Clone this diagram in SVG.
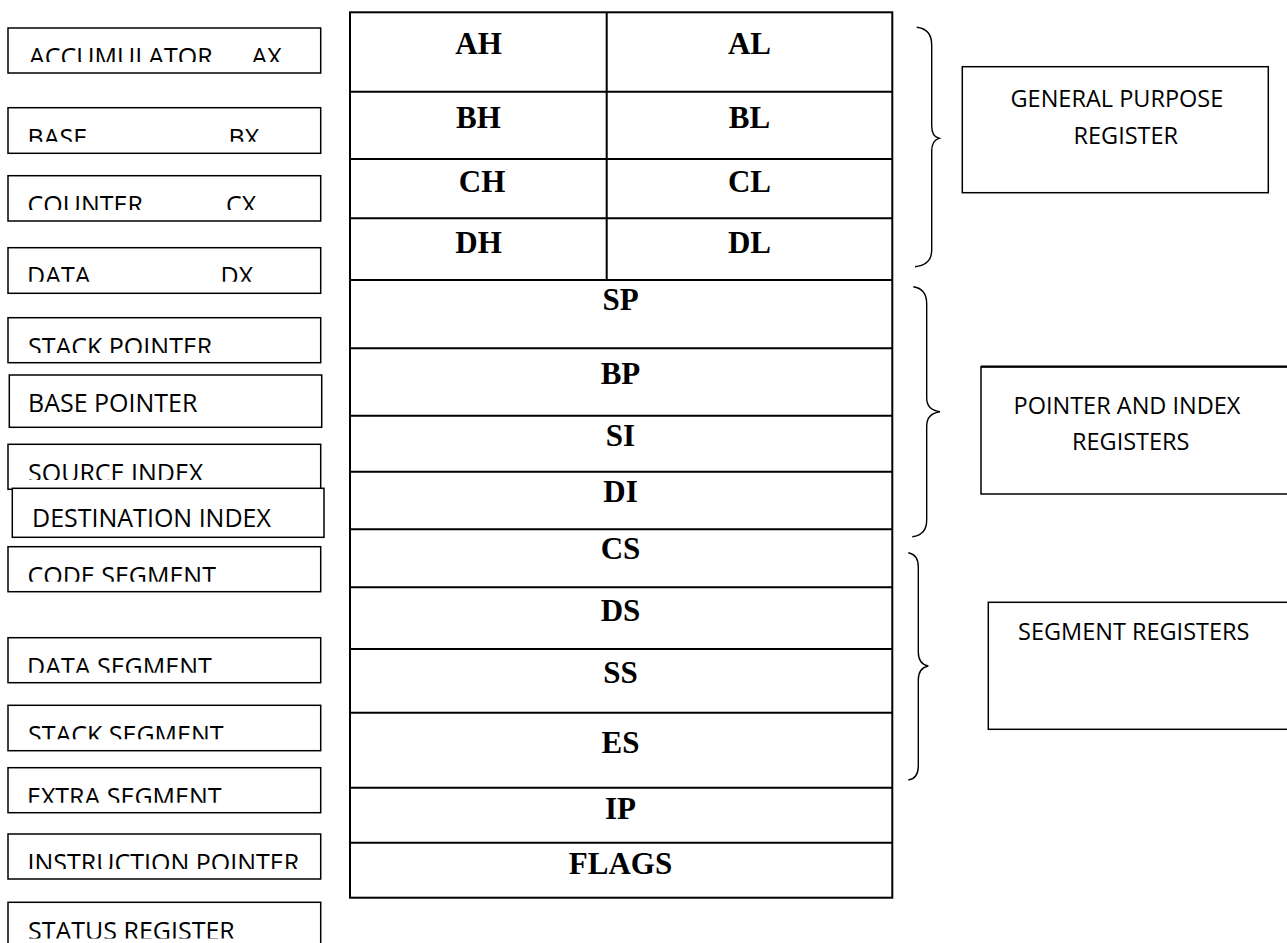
<svg xmlns="http://www.w3.org/2000/svg" width="1287" height="943" viewBox="0 0 1287 943">
<style>
.bx{fill:#fff;stroke:#000;stroke-width:1.5}
.tb{fill:#fff;stroke:#000;stroke-width:2}
.ln{stroke:#000;stroke-width:2;fill:none}
.br{fill:none;stroke:#000;stroke-width:1.4}
.lt{font-family:"Open Sans","Liberation Sans",sans-serif;font-size:25px;fill:#000}
.rt{font-family:"Open Sans","Liberation Sans",sans-serif;font-size:23.5px;fill:#000}
.rg{font-family:"Liberation Serif","Times New Roman",serif;font-size:31px;font-weight:bold;fill:#000;text-anchor:middle}
</style>
<defs>
<clipPath id="c1"><rect x="0" y="28" width="330" height="34"/></clipPath>
<clipPath id="c2"><rect x="0" y="108" width="330" height="33.7"/></clipPath>
<clipPath id="c3"><rect x="0" y="176" width="330" height="34"/></clipPath>
<clipPath id="c4"><rect x="0" y="248" width="330" height="33.7"/></clipPath>
<clipPath id="c5"><rect x="0" y="318" width="330" height="35"/></clipPath>
<clipPath id="c7"><rect x="0" y="444" width="330" height="36"/></clipPath>
<clipPath id="c9"><rect x="0" y="547" width="330" height="34.7"/></clipPath>
<clipPath id="c10"><rect x="0" y="638" width="330" height="34.7"/></clipPath>
<clipPath id="c11"><rect x="0" y="705" width="330" height="34.3"/></clipPath>
<clipPath id="c12"><rect x="0" y="768" width="330" height="34.7"/></clipPath>
<clipPath id="c13"><rect x="0" y="834" width="330" height="35"/></clipPath>
<clipPath id="c14"><rect x="0" y="902" width="330" height="36.5"/></clipPath>
</defs>

<!-- left label boxes -->
<g id="ax">
<rect class="bx" x="8" y="28" width="312.7" height="45"/>
<g clip-path="url(#c1)"><text class="lt" x="29" y="66">ACCUMULATOR</text><text class="lt" x="251.5" y="66">AX</text></g>
</g>
<g id="bx">
<rect class="bx" x="8" y="107.7" width="312.7" height="45.6"/>
<g clip-path="url(#c2)"><text class="lt" x="27.5" y="147">BASE</text><text class="lt" x="228.5" y="147">BX</text></g>
</g>
<g id="cx">
<rect class="bx" x="8" y="175.7" width="312.7" height="45.3"/>
<g clip-path="url(#c3)"><text class="lt" x="27.5" y="214">COUNTER</text><text class="lt" x="226" y="214">CX</text></g>
</g>
<g id="dx">
<rect class="bx" x="8" y="247.7" width="312.7" height="45.6"/>
<g clip-path="url(#c4)"><text class="lt" x="27" y="285">DATA</text><text class="lt" x="220.5" y="285">DX</text></g>
</g>
<g id="sp-label">
<rect class="bx" x="8" y="317.7" width="312.7" height="45"/>
<g clip-path="url(#c5)"><text class="lt" x="28" y="355.5">STACK POINTER</text></g>
</g>
<g id="bp-label">
<rect class="bx" x="9.3" y="375" width="312.4" height="52.3"/>
<text class="lt" x="28" y="412">BASE POINTER</text>
</g>
<g id="si-label">
<rect class="bx" x="8" y="444.3" width="312.7" height="45"/>
<g clip-path="url(#c7)"><text class="lt" x="28" y="482">SOURCE INDEX</text></g>
</g>
<g id="di-label">
<rect class="bx" x="12.3" y="488.3" width="311.7" height="49"/>
<text class="lt" x="32" y="527">DESTINATION INDEX</text>
</g>
<g id="cs-label">
<rect class="bx" x="8" y="546.7" width="312.7" height="45"/>
<g clip-path="url(#c9)"><text class="lt" x="27.5" y="584.5">CODE SEGMENT</text></g>
</g>
<g id="ds-label">
<rect class="bx" x="8" y="637.7" width="312.7" height="45"/>
<g clip-path="url(#c10)"><text class="lt" x="27" y="676">DATA SEGMENT</text></g>
</g>
<g id="ss-label">
<rect class="bx" x="8" y="705.3" width="312.7" height="45.4"/>
<g clip-path="url(#c11)"><text class="lt" x="28" y="743.5">STACK SEGMENT</text></g>
</g>
<g id="es-label">
<rect class="bx" x="8" y="767.7" width="312.7" height="45"/>
<g clip-path="url(#c12)"><text class="lt" x="27" y="806">EXTRA SEGMENT</text></g>
</g>
<g id="ip-label">
<rect class="bx" x="8" y="834" width="312.7" height="45"/>
<g clip-path="url(#c13)"><text class="lt" x="27.5" y="872">INSTRUCTION POINTER</text></g>
</g>
<g id="flags-label">
<rect class="bx" x="8" y="902.3" width="312.7" height="60"/>
<g clip-path="url(#c14)"><text class="lt" x="28" y="939.5">STATUS REGISTER</text></g>
</g>

<!-- central register table -->
<g id="register-table">
<rect class="tb" x="350" y="12.3" width="542.3" height="885.4"/>
<path class="ln" d="M606.7 12.3V280M350 91.7H892.3M350 159H892.3M350 218.3H892.3M350 280H892.3M350 348.3H892.3M350 415.7H892.3M350 471.7H892.3M350 529.3H892.3M350 587.3H892.3M350 649H892.3M350 712.7H892.3M350 787.7H892.3M350 842.7H892.3"/>
<text class="rg" x="478.5" y="54">AH</text><text class="rg" x="749.5" y="54">AL</text>
<text class="rg" x="478.5" y="128">BH</text><text class="rg" x="749.5" y="128">BL</text>
<text class="rg" x="482" y="192">CH</text><text class="rg" x="749.5" y="192">CL</text>
<text class="rg" x="478.5" y="253">DH</text><text class="rg" x="749.5" y="253">DL</text>
<text class="rg" x="620.5" y="310">SP</text>
<text class="rg" x="620.5" y="384">BP</text>
<text class="rg" x="620.5" y="446">SI</text>
<text class="rg" x="620.5" y="502">DI</text>
<text class="rg" x="620.5" y="559">CS</text>
<text class="rg" x="620.5" y="621">DS</text>
<text class="rg" x="620.5" y="683">SS</text>
<text class="rg" x="620.5" y="753">ES</text>
<text class="rg" x="620.5" y="819">IP</text>
<text class="rg" x="620.5" y="874">FLAGS</text>
</g>

<!-- braces -->
<g id="connectors">
<path class="br" d="M916.7 27.3Q931.7 29 931.7 45V126Q931.7 136.5 939 138.3Q931.7 140.5 931.7 151V250Q931.7 265 915 266.7"/>
<path class="br" d="M913.3 286.7Q926.7 288.5 926.7 304V398Q926.7 410 940 411.7Q926.7 413.5 926.7 426V520Q926.7 535 912.3 536.7"/>
<path class="br" d="M908.3 552.7Q918.3 554.5 918.3 567V652Q918.3 664 928.3 666Q918.3 668 918.3 680V766Q918.3 778.5 908.3 780"/>
</g>

<!-- group labels -->
<g id="general-purpose">
<rect class="bx" x="962.3" y="66.7" width="306" height="126"/>
<text class="rt" x="1010.5" y="107.3">GENERAL PURPOSE</text>
<text class="rt" x="1073.5" y="144">REGISTER</text>
</g>
<g id="pointer-index">
<rect class="bx" x="981" y="366.7" width="330" height="127.3"/>
<line x1="981" y1="366.7" x2="1287" y2="366.7" stroke="#000" stroke-width="2.2"/>
<text class="rt" x="1013.5" y="414">POINTER AND INDEX</text>
<text class="rt" x="1072" y="450">REGISTERS</text>
</g>
<g id="segment">
<rect class="bx" x="988.3" y="602.3" width="330" height="127"/>
<text class="rt" x="1018" y="640">SEGMENT REGISTERS</text>
</g>
</svg>
